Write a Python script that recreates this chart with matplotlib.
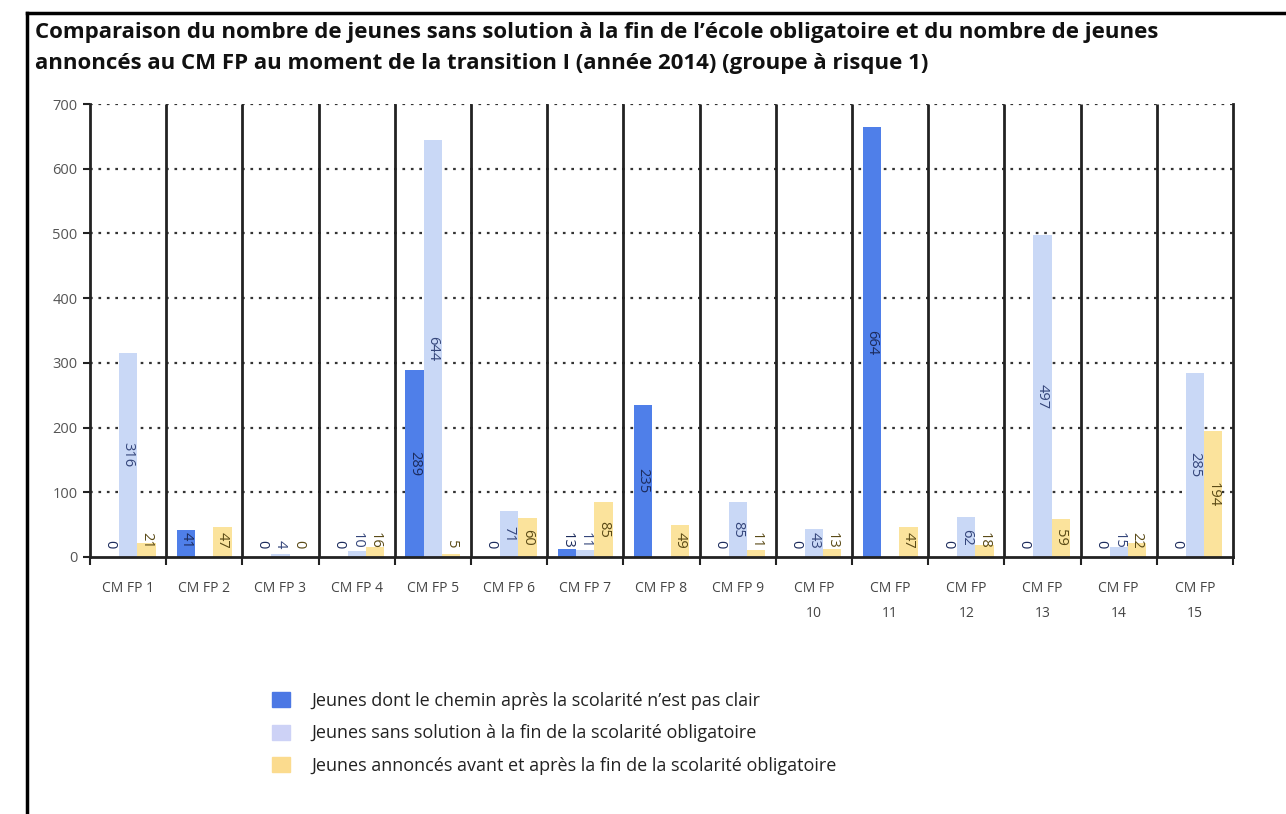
import matplotlib.pyplot as plt
import matplotlib.lines as mlines
import numpy as np

plt.rcParams['font.family'] = ['Open Sans', 'DejaVu Sans']

# data (None = no bar / no label)
categories = ["CM FP 1", "CM FP 2", "CM FP 3", "CM FP 4", "CM FP 5", "CM FP 6",
              "CM FP 7", "CM FP 8", "CM FP 9", "CM FP\n10", "CM FP\n11", "CM FP\n12",
              "CM FP\n13", "CM FP\n14", "CM FP\n15"]
pas_clair = [0, 41, 0, 0, 289, 0, 13, 235, 0, 0, 664, 0, 0, 0, 0]
sans_solution = [316, None, 4, 10, 644, 71, 11, None, 85, 43, None, 62, 497, 15, 285]
annonces = [21, 47, 0, 16, 5, 60, 85, 49, 11, 13, 47, 18, 59, 22, 194]

series_names = [
    "Jeunes dont le chemin après la scolarité n’est pas clair",
    "Jeunes sans solution à la fin de la scolarité obligatoire",
    "Jeunes annoncés avant et après la fin de la scolarité obligatoire",
]
bar_colors = ["#4f7fe9", "#c9d8f6", "#fbe39c"]
label_colors = ["#1c2b5c", "#34457a", "#5a4a16"]
legend_colors = ["#4c78e4", "#cdd2f6", "#fbdb8e"]

W, H = 1286, 814
fig = plt.figure(figsize=(W / 100, H / 100), dpi=100)
ax = fig.add_axes([90 / W, 1 - 557 / H, (1233 - 90) / W, (557 - 104) / H])

x = np.arange(len(categories))
bw = 0.24
for k, (vals, col, lcol) in enumerate(zip([pas_clair, sans_solution, annonces],
                                          bar_colors, label_colors)):
    pos = x + (k - 1) * bw
    h = [v if v is not None else 0 for v in vals]
    ax.bar(pos, h, width=bw, color=col, zorder=2)
    for xp, v in zip(pos, vals):
        if v is None:
            continue
        s = str(v)
        # centred in the bar, pushed up off the axis when the bar is too short
        yc = max(v / 2, 13 + 6.5 * len(s))
        ax.text(xp, yc, s, rotation=-90, ha='center', va='center',
                fontsize=10.5, color=lcol, zorder=4)

# grid and category separators
ax.set_ylim(0, 700)
ax.set_xlim(-0.5, len(categories) - 0.5)
ax.set_yticks(np.arange(0, 701, 100))
for yv in range(100, 701, 100):
    ax.axhline(yv, color='#333333', lw=1.6, ls=(0, (1.2, 2.6)), zorder=1)
ax.vlines(np.arange(0.5, len(categories) - 0.5, 1), 0, 700, color='#222222', lw=2, zorder=3)

for side in ['left', 'right', 'bottom']:
    ax.spines[side].set_color('#222222')
    ax.spines[side].set_linewidth(2)
ax.spines['top'].set_visible(False)

ax.set_xticks(x)
ax.set_xticklabels(categories, fontsize=10, color='#444444', linespacing=1.9)
ax.set_xticks(np.arange(-0.5, len(categories), 1), minor=True)
ax.tick_params(axis='x', which='major', length=0, pad=17)
ax.tick_params(axis='x', which='minor', length=6, width=1.5, color='#222222')
ax.tick_params(axis='y', length=5, width=1.5, color='#222222', labelsize=10.5,
               labelcolor='#555555', pad=4)

# title
fig.text(35 / W, 1 - 22 / H,
         "Comparaison du nombre de jeunes sans solution à la fin de l’école obligatoire et du nombre de jeunes\n"
         "annoncés au CM FP au moment de la transition I (année 2014) (groupe à risque 1)",
         fontsize=16, fontweight='bold', color='#111111', va='top', ha='left',
         linespacing=1.6)

# legend
handles = [plt.Rectangle((0, 0), 1, 1, color=c) for c in legend_colors]
fig.legend(handles, series_names, loc='upper left',
           bbox_to_anchor=(272 / W, 1 - 692 / H), frameon=False, fontsize=13,
           handlelength=1.0, handleheight=0.9, handletextpad=1.2,
           labelspacing=0.8, borderpad=0, borderaxespad=0, labelcolor='#222222')

# outer frame (cut off at right and bottom)
fig.add_artist(mlines.Line2D([27 / W, 1], [1 - 13 / H, 1 - 13 / H], color='black', lw=2.5))
fig.add_artist(mlines.Line2D([27 / W, 27 / W], [1 - 13 / H, 0], color='black', lw=2.5))

fig.savefig("out.png", dpi=100)
